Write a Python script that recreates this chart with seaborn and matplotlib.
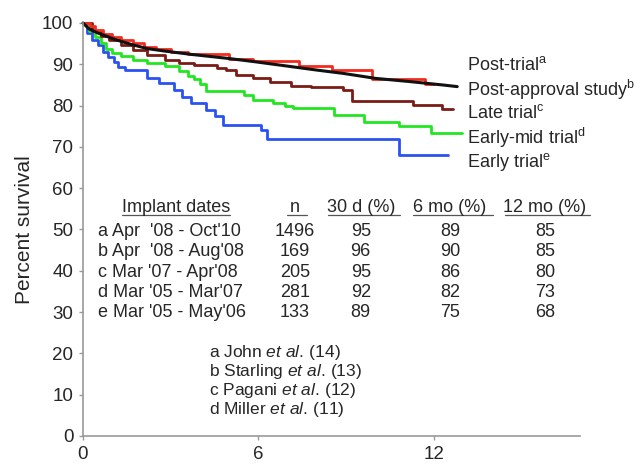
import matplotlib
matplotlib.use("Agg")
import matplotlib.pyplot as plt
import seaborn as sns
import pandas as pd

# ---- data ----
a_t = [0, 0.25, 0.4, 0.7, 1.0, 1.3, 1.7, 2.1, 2.5, 3.0, 3.6, 5.0, 5.8, 7.4, 8.5, 9.9, 11.7, 12.0]
a_y = [100, 99.3, 98.3, 97.3, 96.5, 95.8, 95.1, 94.2, 93.6, 93.0, 92.4, 91.4, 90.8, 89.6, 88.7, 86.4, 85.3, 85.3]

b_t = [0, 0.2, 0.5, 1.1, 1.66, 2.2, 2.8, 3.7, 5.0, 5.9, 6.85, 8.0, 8.9, 10.0, 11.2, 12.3, 12.8]
b_y = [100, 98.6, 97.6, 96.0, 94.8, 93.8, 93.2, 92.4, 91.4, 90.6, 89.7, 88.6, 87.8, 86.6, 85.8, 85.0, 84.6]

c_t = [0, 0.3, 0.6, 0.9, 1.3, 1.7, 2.2, 2.8, 3.3, 3.8, 4.6, 4.9, 5.25, 5.8, 6.4, 7.1, 7.8, 8.9, 9.2, 11.3, 12.27, 12.65]
c_y = [100, 98, 96.9, 95.8, 94.6, 93.5, 92.3, 91.1, 90.3, 89.8, 89.0, 88.6, 87.4, 86.8, 85.6, 84.8, 84.4, 83.8, 81.0, 80.1, 79.1, 79.1]

d_t = [0, 0.2, 0.4, 0.6, 0.8, 1.0, 1.3, 1.7, 2.2, 2.8, 3.3, 3.6, 3.8, 4.0, 4.2, 5.5, 5.8, 6.5, 6.9, 7.2, 8.6, 9.6, 10.8, 11.9, 12.95]
d_y = [100, 98, 96.5, 95.2, 93.8, 92.8, 92.0, 91.1, 90.3, 89.5, 88.3, 87.2, 86.4, 85.2, 83.6, 82.6, 81.4, 80.6, 79.8, 79.4, 77.7, 76.0, 75.1, 73.3, 73.3]

e_t = [0, 0.15, 0.3, 0.5, 0.7, 0.86, 1.05, 1.2, 1.43, 2.2, 2.6, 3.1, 3.4, 3.7, 4.2, 4.5, 4.8, 6.1, 6.3, 10.8, 12.5]
e_y = [100, 97.5, 96, 94.6, 93, 91.8, 90.5, 89.4, 88.5, 86.6, 85.4, 83.8, 82.2, 80.6, 79, 77.5, 75.3, 74, 72, 68, 68]

curve_labels = ["Post-trial", "Post-approval study", "Late trial", "Early-mid trial", "Early trial"]
curve_letters = ["a", "b", "c", "d", "e"]
label_y = [89.8, 83.8, 78.2, 72.2, 66.3]

table_header = ["Implant dates", "n", "30 d (%)", "6 mo (%)", "12 mo (%)"]
implant_dates = ["a Apr  '08 - Oct'10", "b Apr  '08 - Aug'08", "c Mar '07 - Apr'08",
                 "d Mar '05 - Mar'07", "e Mar '05 - May'06"]
n_vals = [1496, 169, 205, 281, 133]
d30_vals = [95, 96, 95, 92, 89]
m6_vals = [89, 90, 86, 82, 75]
m12_vals = [85, 85, 80, 73, 68]

refs = [("a John", "(14)"), ("b Starling", "(13)"), ("c Pagani", "(12)"), ("d Miller", "(11)")]

xticks = [0, 6, 12]
yticks = list(range(0, 101, 10))

colors = {"a": "#f52a1e", "b": "#111111", "c": "#7a1c16", "d": "#22e622", "e": "#2a52f0"}

# ---- style ----
sns.set_style("ticks")
plt.rcParams["font.family"] = ["Liberation Sans", "DejaVu Sans"]
plt.rcParams["mathtext.fontset"] = "custom"
plt.rcParams["mathtext.rm"] = "Liberation Sans"
plt.rcParams["mathtext.it"] = "Liberation Sans:italic"

fig = plt.figure(figsize=(6.43, 4.67), dpi=100)
ax = fig.add_axes([83 / 643, 31 / 467, 497 / 643, 413 / 467])

steps = pd.concat([
    pd.DataFrame({"month": e_t, "pct": e_y, "study": "e"}),
    pd.DataFrame({"month": d_t, "pct": d_y, "study": "d"}),
    pd.DataFrame({"month": c_t, "pct": c_y, "study": "c"}),
    pd.DataFrame({"month": a_t, "pct": a_y, "study": "a"}),
], ignore_index=True)

for s in ["e", "d", "c", "a"]:
    sub = steps[steps["study"] == s]
    sns.lineplot(data=sub, x="month", y="pct", color=colors[s], estimator=None,
                 drawstyle="steps-post", linewidth=2.0, ax=ax, legend=False, clip_on=False)

black = pd.DataFrame({"month": b_t, "pct": b_y})
sns.lineplot(data=black, x="month", y="pct", color=colors["b"], estimator=None,
             linewidth=2.2, ax=ax, legend=False, clip_on=False)

ax.set_xlim(0, 17)
ax.set_ylim(0, 100)
ax.set_xticks(xticks)
ax.set_yticks(yticks)
ax.set_xlabel("")
ax.set_ylabel("Percent survival", fontsize=15, labelpad=6)
ax.tick_params(axis="both", labelsize=13.5, length=3, width=1, color="#999999", pad=4)
for side in ["top", "right"]:
    ax.spines[side].set_visible(False)
for side in ["left", "bottom"]:
    ax.spines[side].set_color("#999999")
    ax.spines[side].set_linewidth(1.2)

# curve labels
for lab, let, yy in zip(curve_labels, curve_letters, label_y):
    ax.text(13.13, yy, lab + r"$^{\mathrm{" + let + "}}$", fontsize=13, va="center", ha="left",
            clip_on=False)

# table
col_x = [3.18, 7.25, 9.5, 12.55, 15.8]
ul = [(1.33, 5.03), (6.97, 7.66), (8.38, 10.84), (11.28, 14.02), (14.43, 17.33)]
head_y = 55.3
for h, cx, (u0, u1) in zip(table_header, col_x, ul):
    ax.text(cx, head_y, h, fontsize=13, ha="center", va="center")
    ax.plot([u0, u1], [53.4, 53.4], color="#555555", lw=0.9, clip_on=False)

row_y = [49.5, 44.6, 39.7, 34.8, 29.9]
for i, yy in enumerate(row_y):
    ax.text(0.5, yy, implant_dates[i], fontsize=13, ha="left", va="center")
    ax.text(col_x[1], yy, str(n_vals[i]), fontsize=13, ha="center", va="center")
    ax.text(col_x[2], yy, str(d30_vals[i]), fontsize=13, ha="center", va="center")
    ax.text(col_x[3], yy, str(m6_vals[i]), fontsize=13, ha="center", va="center")
    ax.text(col_x[4], yy, str(m12_vals[i]), fontsize=13, ha="center", va="center")

# references
ref_y = [20.1, 15.5, 10.9, 6.3]
for (nm, num), yy in zip(refs, ref_y):
    s = (r"$\mathrm{" + nm.replace(" ", r"\ ") + r"\ }\mathit{et\ al.}\mathrm{\,"
         + num + "}$")
    ax.text(4.3, yy, s, fontsize=12.5, ha="left", va="center")

fig.savefig("out.png", dpi=100)
